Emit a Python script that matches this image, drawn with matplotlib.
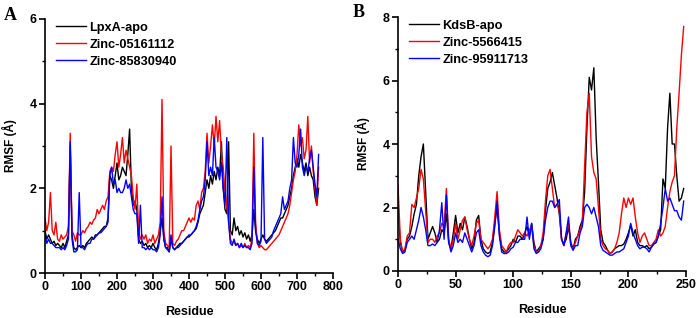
import numpy as np
import matplotlib.pyplot as plt
from matplotlib.ticker import MultipleLocator

# Panel A: LpxA, residues every 5
res_a = np.arange(0, 765, 5)
lpxa_apo = [1.0, 0.8, 0.9, 0.8, 0.7, 0.75, 0.65, 0.7, 0.65, 0.6, 0.7, 0.6, 0.75, 0.9, 3.0, 0.9,
            0.6, 0.55, 0.6, 0.65, 0.6, 0.65, 0.6, 0.7, 0.75, 0.8, 0.85, 0.8, 0.9, 0.9, 0.95, 1.0,
            1.05, 1.1, 1.1, 1.3, 2.3, 2.2, 2.0, 2.3, 2.6, 2.2, 2.3, 2.5, 2.4, 2.3, 2.8, 3.4,
            2.0, 1.6, 1.7, 1.5, 0.8, 0.7, 0.75, 0.65, 0.7, 0.6, 0.65, 0.6, 0.7, 0.6, 0.55, 0.7,
            1.0, 1.3, 0.8, 0.6, 0.6, 0.5, 0.8, 0.6, 0.55, 0.6, 0.65, 0.7, 0.7, 0.75, 0.8, 0.85,
            0.85, 0.9, 0.95, 1.0, 1.05, 1.2, 1.4, 1.5, 1.6, 1.9, 2.2, 2.0, 2.3, 2.1, 2.4, 2.2,
            2.5, 2.3, 3.1, 2.0, 1.5, 1.4, 3.1, 1.0, 0.9, 1.3, 1.0, 1.1, 0.9, 1.0, 0.85, 0.95,
            0.8, 0.9, 0.75, 0.9, 1.5, 1.0, 0.8, 0.7, 0.8, 0.9, 0.8, 0.75, 0.8, 0.85, 0.9, 0.95,
            1.0, 1.1, 1.2, 1.3, 1.3, 1.4, 1.5, 1.6, 1.8, 2.0, 2.3, 2.5, 2.7, 2.5, 2.8, 2.6,
            2.4, 2.6, 2.3, 2.5, 2.3, 2.2, 1.8, 1.6, 2.0]
zinc_05161112 = [1.3, 1.0, 1.2, 1.9, 1.0, 0.9, 1.2, 0.8, 0.75, 0.9, 0.8, 0.85, 0.9, 1.1, 3.3, 1.0,
                 0.9, 0.75, 0.95, 0.9, 0.9, 1.0, 0.95, 1.05, 1.1, 1.2, 1.15, 1.25, 1.3, 1.5, 1.4, 1.5,
                 1.6, 1.5, 1.7, 1.8, 2.4, 2.5, 2.4, 2.8, 3.1, 2.5, 2.8, 3.2, 2.6, 2.9, 2.7, 2.5,
                 2.3, 1.8, 1.5, 2.1, 1.0, 0.8, 0.9, 0.8, 0.9, 0.7, 0.8, 0.75, 0.9, 0.7, 0.8, 0.9,
                 1.2, 4.1, 1.0, 0.7, 0.65, 0.6, 3.0, 0.7, 0.65, 0.75, 0.8, 0.9, 1.0, 1.0, 1.1, 1.2,
                 1.3, 1.2, 1.3, 1.25, 1.6, 1.7, 1.5, 1.9, 2.0, 2.4, 3.3, 2.6, 3.0, 3.5, 3.0, 3.7,
                 3.1, 3.6, 2.8, 2.5, 1.9, 1.6, 1.2, 0.8, 0.7, 0.75, 0.65, 0.7, 0.6, 0.65, 0.6, 0.7,
                 0.6, 0.65, 0.6, 0.8, 3.3, 1.2, 0.7, 0.6, 0.65, 0.6, 0.55, 0.55, 0.6, 0.65, 0.7, 0.75,
                 0.8, 0.85, 0.9, 1.0, 1.1, 1.2, 1.3, 1.4, 1.6, 1.9, 2.2, 2.4, 2.8, 3.5, 3.0, 3.2,
                 2.7, 2.9, 3.7, 2.6, 3.0, 2.4, 2.0, 1.6, 2.5]
zinc_85830940 = [0.9, 0.7, 0.8, 0.7, 0.7, 0.65, 0.6, 0.6, 0.6, 0.55, 0.6, 0.55, 0.65, 0.8, 3.1, 0.8,
                 0.5, 0.5, 0.55, 1.9, 0.6, 0.6, 0.55, 0.65, 0.7, 0.7, 0.8, 0.8, 0.85, 0.9, 0.95, 0.95,
                 1.0, 1.05, 1.1, 1.2, 2.3, 2.5, 2.1, 2.2, 1.9, 2.0, 1.9, 1.9, 2.0, 2.2, 2.0, 2.1,
                 1.8, 1.5, 1.4, 1.4, 0.7, 1.6, 0.6, 0.6, 0.55, 0.6, 0.55, 0.6, 0.55, 0.55, 0.5, 0.6,
                 0.9, 1.8, 0.8, 0.6, 0.55, 0.5, 0.9, 0.6, 0.55, 0.6, 0.6, 0.65, 0.7, 0.75, 0.8, 0.85,
                 0.9, 0.9, 0.95, 1.0, 1.1, 1.25, 1.5, 1.7, 1.8, 2.2, 3.1, 2.3, 2.5, 2.3, 3.2, 2.5,
                 2.4, 2.2, 2.6, 2.0, 1.6, 3.2, 1.2, 0.7, 0.65, 0.8, 0.65, 0.7, 0.6, 0.7, 0.6, 0.65,
                 0.6, 0.6, 0.55, 0.7, 2.5, 1.0, 0.7, 0.65, 0.75, 3.2, 0.8, 0.7, 0.75, 0.8, 0.85, 1.0,
                 1.1, 1.2, 1.3, 1.4, 1.8, 1.5, 1.6, 1.7, 2.0, 2.2, 3.2, 2.6, 2.5, 2.8, 3.4, 2.5,
                 2.3, 2.5, 2.4, 2.7, 2.9, 2.5, 2.1, 1.8, 2.8]

# Panel B: KdsB, residues every 2
res_b = np.arange(0, 249, 2)
kdsb_apo = [2.0, 0.9, 0.6, 0.65, 1.0, 1.1, 1.4, 1.8, 2.1, 3.0, 3.6, 4.0, 2.5, 1.0, 1.2, 1.4,
            1.2, 0.9, 1.0, 1.3, 1.2, 1.8, 0.9, 0.7, 1.2, 1.75, 1.2, 1.5, 1.3, 1.7, 1.4, 1.0,
            0.7, 0.9, 1.6, 1.75, 1.0, 0.7, 0.6, 0.55, 0.6, 0.9, 1.5, 2.0, 1.2, 0.7, 0.6, 0.6,
            0.7, 0.8, 1.0, 0.9, 1.1, 1.1, 1.0, 1.2, 1.4, 1.1, 1.5, 0.9, 0.6, 0.7, 0.8, 1.0,
            1.9, 2.6, 2.8, 3.1, 2.7, 2.3, 1.8, 1.0, 0.85, 1.0, 1.4, 0.9, 0.7, 1.0, 1.1, 1.4,
            1.6, 2.5, 4.5, 6.1, 5.7, 6.4, 4.2, 2.8, 1.3, 0.9, 0.8, 0.65, 0.55, 0.6, 0.7, 0.75,
            0.8, 0.8, 0.85, 1.0, 1.2, 1.45, 1.1, 1.3, 0.9, 0.8, 0.8, 0.75, 0.8, 0.7, 0.75, 0.85,
            0.9, 1.1, 1.3, 2.9, 2.6, 4.5, 5.6, 4.0, 4.0, 3.0, 2.2, 2.3, 2.6]
zinc_5566415 = [2.7, 1.0, 0.6, 0.7, 1.1, 1.2, 2.1, 2.0, 2.3, 2.6, 3.2, 2.9, 1.9, 0.9, 1.0, 1.0,
                0.9, 1.1, 1.2, 1.5, 1.4, 2.6, 1.0, 0.7, 1.0, 1.5, 1.0, 1.3, 1.6, 1.7, 1.3, 1.0,
                0.8, 1.1, 1.5, 1.6, 1.0, 0.9, 0.8, 0.7, 0.8, 1.0, 1.7, 2.5, 1.3, 0.8, 0.7, 0.6,
                0.8, 0.9, 0.9, 1.1, 1.3, 1.2, 1.1, 1.2, 1.1, 1.3, 1.4, 0.8, 0.6, 0.6, 0.8, 1.2,
                2.2, 3.0, 3.2, 2.6, 2.0, 2.1, 1.9, 1.0, 0.8, 1.2, 1.5, 0.8, 0.7, 0.9, 1.1, 1.3,
                1.5, 3.3, 5.0, 5.6, 3.6, 3.1, 2.9, 2.0, 1.0, 0.8, 0.7, 0.65, 0.55, 0.6, 0.7, 0.9,
                1.2, 1.8, 2.3, 2.0, 2.3, 2.1, 2.3, 1.7, 1.2, 0.9, 1.1, 1.2, 1.0, 0.8, 0.8, 0.9,
                1.0, 1.3, 1.1, 1.2, 1.4, 2.0, 2.5, 2.8, 3.0, 4.5, 5.6, 6.8, 7.7]
zinc_95911713 = [1.0, 0.7, 0.55, 0.6, 0.9, 1.0, 1.1, 1.0, 1.3, 1.6, 2.0, 1.7, 1.3, 0.8, 0.8, 0.85,
                 0.8, 0.9, 1.3, 2.15, 1.0, 2.4, 0.9, 0.6, 0.8, 1.2, 0.9, 1.0, 0.9, 1.2, 1.0, 0.8,
                 0.6, 0.8, 1.2, 1.3, 0.8, 0.6, 0.5, 0.45, 0.5, 0.8, 1.4, 2.2, 1.1, 0.6, 0.55, 0.55,
                 0.6, 0.7, 0.75, 0.9, 0.9, 1.0, 1.0, 1.0, 1.7, 1.0, 1.5, 0.7, 0.55, 0.6, 0.7, 1.0,
                 1.6, 2.0, 2.2, 2.2, 2.0, 2.1, 2.25, 1.0, 0.8, 1.2, 1.7, 0.8, 0.65, 0.8, 0.8, 1.2,
                 1.4, 2.0, 2.1, 2.0, 1.8, 2.0, 1.7, 1.4, 0.8, 0.65, 0.6, 0.55, 0.5, 0.5, 0.55, 0.6,
                 0.6, 0.65, 0.7, 0.9, 1.1, 1.5, 1.2, 1.0, 0.8, 0.7, 0.75, 0.75, 0.7, 0.6, 0.75, 0.85,
                 0.9, 1.1, 1.5, 2.0, 2.6, 2.2, 2.3, 2.1, 1.9, 1.9, 1.7, 1.6, 2.2]

plt.rcParams['font.family'] = ['Liberation Sans', 'DejaVu Sans']
plt.rcParams['font.weight'] = 'bold'

fig = plt.figure(figsize=(6.99, 3.18), dpi=100)
ax1 = fig.add_axes([0.0644, 0.1415, 0.412, 0.7988])
ax2 = fig.add_axes([0.5694, 0.1478, 0.412, 0.7987])

lw = 1.0
ax1.plot(res_a, lpxa_apo, color='black', lw=lw, label='LpxA-apo')
ax1.plot(res_a, zinc_05161112, color='red', lw=lw, label='Zinc-05161112')
ax1.plot(res_a, zinc_85830940, color='blue', lw=lw, label='Zinc-85830940')
ax1.set_xlim(0, 800)
ax1.set_ylim(0, 6)
ax1.xaxis.set_major_locator(MultipleLocator(100))
ax1.xaxis.set_minor_locator(MultipleLocator(50))
ax1.yaxis.set_major_locator(MultipleLocator(2))
ax1.yaxis.set_minor_locator(MultipleLocator(1))

ax2.plot(res_b, kdsb_apo, color='black', lw=lw, label='KdsB-apo')
ax2.plot(res_b, zinc_5566415, color='red', lw=lw, label='Zinc-5566415')
ax2.plot(res_b, zinc_95911713, color='blue', lw=lw, label='Zinc-95911713')
ax2.set_xlim(0, 250)
ax2.set_ylim(0, 8)
ax2.xaxis.set_major_locator(MultipleLocator(50))
ax2.xaxis.set_minor_locator(MultipleLocator(25))
ax2.yaxis.set_major_locator(MultipleLocator(2))
ax2.yaxis.set_minor_locator(MultipleLocator(1))

for ax in (ax1, ax2):
    ax.spines['top'].set_visible(False)
    ax.spines['right'].set_visible(False)
    ax.spines['left'].set_linewidth(1.2)
    ax.spines['bottom'].set_linewidth(1.2)
    ax.tick_params(which='major', length=4, width=1.2, labelsize=9, pad=2)
    ax.tick_params(which='minor', length=2.5, width=1.0)
    ax.set_xlabel('Residue', fontsize=9, fontweight='bold', labelpad=9)
    ax.set_ylabel('RMSF (Å)', fontsize=8.5, fontweight='bold', labelpad=9)
    leg = ax.legend(loc='upper left', frameon=False, fontsize=9.2, handlelength=2.4,
                    handletextpad=0.25, labelspacing=0.4, borderaxespad=0.3,
                    bbox_to_anchor=(0.006, 1.025))
    for t in leg.get_texts():
        t.set_fontweight('bold')

fig.text(0.005, 0.95, 'A', fontsize=13, fontweight='bold', family='Liberation Serif', va='center')
fig.text(0.505, 0.962, 'B', fontsize=13, fontweight='bold', family='Liberation Serif', va='center')

fig.savefig('out.png', dpi=100)
